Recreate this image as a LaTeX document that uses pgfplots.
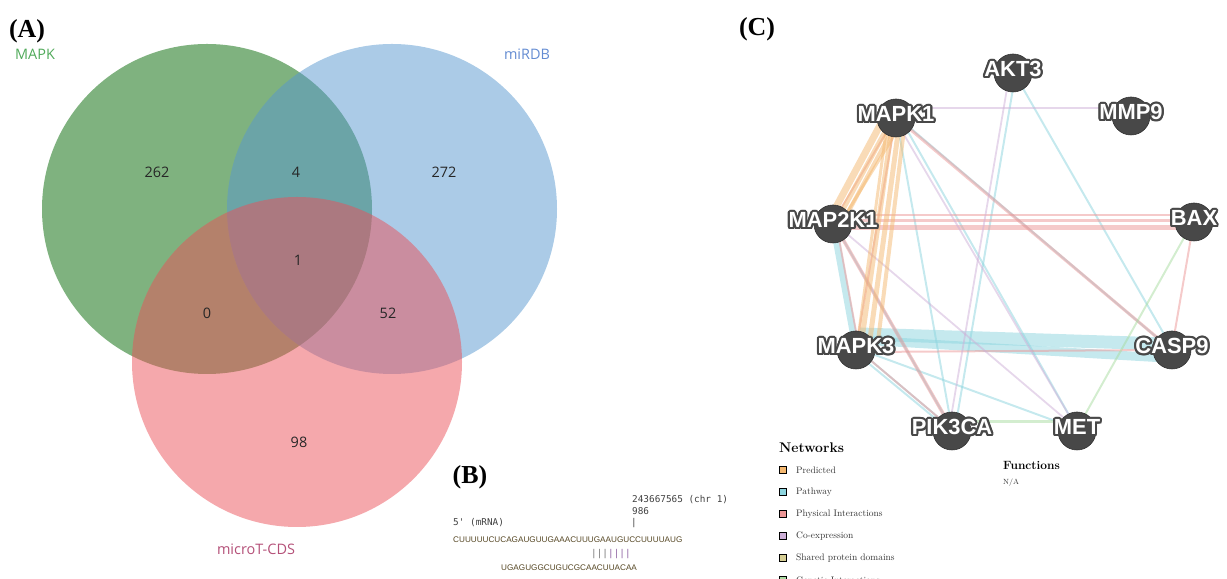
\documentclass[border=0pt]{standalone}
\usepackage{fontspec}
\usepackage{pgfplots}
\pgfplotsset{compat=1.18}
\newfontfamily\vennfont{Open Sans}
\newfontfamily\arialfont{Liberation Sans}
\newfontfamily\timesfont{Liberation Serif}
\newfontfamily\monofont{DejaVu Sans Mono}

\definecolor{vgreen}{RGB}{0,102,0}
\definecolor{vblue}{RGB}{87,151,207}
\definecolor{vpink}{RGB}{235,81,89}
\definecolor{tgreen}{RGB}{80,170,90}
\definecolor{tblue}{RGB}{100,140,210}
\definecolor{tpink}{RGB}{180,80,120}
\definecolor{cPred}{RGB}{244,184,112}
\definecolor{cPath}{RGB}{140,212,222}
\definecolor{cPhys}{RGB}{236,150,150}
\definecolor{cCoex}{RGB}{205,175,215}
\definecolor{cShared}{RGB}{214,206,148}
\definecolor{cGen}{RGB}{168,220,160}
\definecolor{nodegray}{RGB}{72,72,72}
\definecolor{seqcol}{RGB}{85,70,35}
\definecolor{barpurple}{RGB}{140,95,160}

\newcommand\edge[6]{\addplot[#1, line width=#2bp, draw opacity=0.5] coordinates {(#3,#4) (#5,#6)};}
\newcommand\gsh[5]{\node[glab, text=nodegray, xshift=#1bp, yshift=#2bp] at (axis cs:#3,#4) {#5};}
\newcommand\glabel[3]{%
 \begin{pgfonlayer}{axis foreground}
 \gsh{2.1}{0}{#1}{#2}{#3}\gsh{-2.1}{0}{#1}{#2}{#3}
 \gsh{0}{2.1}{#1}{#2}{#3}\gsh{0}{-2.1}{#1}{#2}{#3}
 \gsh{1.5}{1.5}{#1}{#2}{#3}\gsh{-1.5}{1.5}{#1}{#2}{#3}
 \gsh{1.5}{-1.5}{#1}{#2}{#3}\gsh{-1.5}{-1.5}{#1}{#2}{#3}
 \gsh{1.9}{0.8}{#1}{#2}{#3}\gsh{-1.9}{0.8}{#1}{#2}{#3}
 \gsh{1.9}{-0.8}{#1}{#2}{#3}\gsh{-1.9}{-0.8}{#1}{#2}{#3}
 \gsh{0.8}{1.9}{#1}{#2}{#3}\gsh{-0.8}{1.9}{#1}{#2}{#3}
 \gsh{0.8}{-1.9}{#1}{#2}{#3}\gsh{-0.8}{-1.9}{#1}{#2}{#3}
 \node[glab, text=white] at (axis cs:#1,#2) {#3};
 \end{pgfonlayer}}

\begin{document}
\begin{tikzpicture}[
  glab/.style={font=\arialfont\bfseries\fontsize{22}{22}\selectfont, inner sep=0pt},
  vnum/.style={font=\vennfont\fontsize{14.5}{15}\selectfont, text=black!85, inner sep=0pt},
  mono/.style={font=\monofont\fontsize{9.4}{10}\selectfont, text=black!75, inner sep=0pt, anchor=west},
  seq/.style={font=\arialfont\fontsize{8.2}{9}\selectfont, text=seqcol, inner sep=0pt},
  panel/.style={font=\timesfont\bfseries\fontsize{26}{26}\selectfont, inner sep=0pt},
  legt/.style={font=\fontsize{9.5}{10}\selectfont, text=black!80, anchor=west, inner sep=0pt}]
\begin{axis}[x=1bp, y=1bp, xmin=0, xmax=1227, ymin=0, ymax=579,
  hide axis, clip=false, set layers=standard]
\coordinate (ll) at (axis cs:0,0);
\coordinate (ur) at (axis cs:1227,579);

% ---------------- (A) Venn diagram ----------------
\fill[vgreen, fill opacity=0.5] (axis cs:207,370) circle[radius=165];
\fill[vblue, fill opacity=0.5] (axis cs:392,370) circle[radius=165];
\fill[vpink, fill opacity=0.5] (axis cs:297,217) circle[radius=165];
\node[vnum] at (axis cs:157,407) {262};
\node[vnum] at (axis cs:296,407) {4};
\node[vnum] at (axis cs:444,407) {272};
\node[vnum] at (axis cs:298,319) {1};
\node[vnum] at (axis cs:207,266) {0};
\node[vnum] at (axis cs:388,266) {52};
\node[vnum] at (axis cs:299,137) {98};
\node[vnum, text=tgreen, anchor=west] at (axis cs:15,525) {MAPK};
\node[vnum, text=tblue] at (axis cs:527,525) {miRDB};
\node[vnum, text=tpink] at (axis cs:256,30) {microT-CDS};
\node[panel] at (axis cs:27,548) {(A)};

% ---------------- (B) target site ----------------
\node[panel] at (axis cs:470,102) {(B)};
\node[mono] at (axis cs:632,79) {243667565 (chr 1)};
\node[mono] at (axis cs:632,68) {986};
\node[mono] at (axis cs:453,56) {5' (mRNA)};
\node[mono] at (axis cs:631,56) {|};
\node[seq, anchor=west] at (axis cs:453,39) {CUUUUUCUCAGAUGUUGAAACUUUGAAUGUCCUUUUAUG};
\node[mono, text=black!55] at (axis cs:591,25) {|||\textcolor{barpurple}{||||}};
\node[seq, anchor=west] at (axis cs:501,11) {UGAGUGGCUGUCGCAACUUACAA};

% ---------------- (C) network ----------------
\node[panel] at (axis cs:757,550) {(C)};
% pathway (cyan)
\edge{cPath}{13}{860}{245}{1165}{235}
\edge{cPath}{9}{860}{239}{1165}{221}
\edge{cPath}{7}{833}{357}{856}{231}
\edge{cPath}{2}{896}{463}{952}{150}
\edge{cPath}{2}{899}{463}{1077}{150}
\edge{cPath}{2}{902}{458}{1174}{227}
\edge{cPath}{2}{1016}{508}{955}{150}
\edge{cPath}{2}{1013}{508}{1172}{231}
\edge{cPath}{2}{833}{357}{952}{150}
\edge{cPath}{2}{856}{231}{952}{150}
\edge{cPath}{2}{856}{226}{948}{150}
\edge{cPath}{2}{856}{231}{1077}{150}
% physical (pink)
\edge{cPhys}{2.5}{833}{364}{1194}{364}
\edge{cPhys}{3}{833}{358}{1194}{358}
\edge{cPhys}{5}{833}{351}{1194}{351}
\edge{cPhys}{3}{892}{465}{1166}{234}
\edge{cPhys}{2}{896}{463}{833}{357}
\edge{cPhys}{2}{896}{463}{856}{231}
\edge{cPhys}{2}{836}{357}{859}{231}
\edge{cPhys}{3.5}{833}{357}{952}{150}
\edge{cPhys}{2}{856}{231}{952}{150}
\edge{cPhys}{2}{866}{227}{1160}{229}
\edge{cPhys}{2}{1194}{359}{1172}{231}
% co-expression (purple)
\edge{cCoex}{2}{896}{471}{1131}{471}
\edge{cCoex}{1.8}{893}{463}{1077}{150}
\edge{cCoex}{1.8}{833}{357}{1077}{150}
\edge{cCoex}{1.8}{1010}{508}{949}{150}
% genetic (green)
\edge{cGen}{3}{952}{157}{1077}{157}
\edge{cGen}{2}{1077}{150}{1194}{359}
% predicted (orange)
\edge{cPred}{7}{885}{463}{828}{357}
\edge{cPred}{5}{892}{460}{835}{355}
\edge{cPred}{4}{898}{460}{842}{355}
\edge{cPred}{3}{903}{458}{838}{352}
\edge{cPred}{5}{893}{460}{862}{240}
\edge{cPred}{5}{900}{460}{870}{240}
\edge{cPred}{4}{905}{458}{878}{238}
\edge{cPred}{3}{888}{462}{858}{240}
% nodes
\addplot[only marks, mark=*, mark size=19bp,
  mark options={fill=nodegray, draw=nodegray!70!black, line width=0.6bp}]
  coordinates {(896,461) (1013,506) (1131,463) (833,355) (1194,357)
               (856,229) (1172,229) (952,148) (1077,148)};
\glabel{896}{465}{MAPK1}
\glabel{1013}{510}{AKT3}
\glabel{1131}{467}{MMP9}
\glabel{833}{359}{MAP2K1}
\glabel{1194}{361}{BAX}
\glabel{856}{233}{MAPK3}
\glabel{1172}{233}{CASP9}
\glabel{952}{152}{PIK3CA}
\glabel{1077}{152}{MET}

% legend
\node[font=\bfseries\fontsize{14}{14}\selectfont, anchor=west, inner sep=0pt] at (axis cs:779,131) {Networks};
\addplot[only marks, mark=square*, mark size=3.6bp, draw=none, fill=cPred] coordinates {(783,109)};
\addplot[only marks, mark=square*, mark size=3.6bp, draw=none, fill=cPath] coordinates {(783,87)};
\addplot[only marks, mark=square*, mark size=3.6bp, draw=none, fill=cPhys] coordinates {(783,65)};
\addplot[only marks, mark=square*, mark size=3.6bp, draw=none, fill=cCoex] coordinates {(783,43)};
\addplot[only marks, mark=square*, mark size=3.6bp, draw=none, fill=cShared] coordinates {(783,21)};
\addplot[only marks, mark=square*, mark size=3.6bp, draw=none, fill=cGen] coordinates {(783,-1)};
\node[legt] at (axis cs:796,109) {Predicted};
\node[legt] at (axis cs:796,87) {Pathway};
\node[legt] at (axis cs:796,65) {Physical Interactions};
\node[legt] at (axis cs:796,43) {Co-expression};
\node[legt] at (axis cs:796,21) {Shared protein domains};
\node[legt] at (axis cs:796,-1) {Genetic Interactions};
\node[font=\bfseries\fontsize{12}{12}\selectfont, anchor=west, inner sep=0pt] at (axis cs:1003,114) {Functions};
\node[font=\fontsize{7.5}{8}\selectfont, anchor=west, inner sep=0pt, text=black!80] at (axis cs:1003,96) {N/A};
\end{axis}
\pgfresetboundingbox
\useasboundingbox (ll) rectangle (ur);
\end{tikzpicture}
\end{document}
